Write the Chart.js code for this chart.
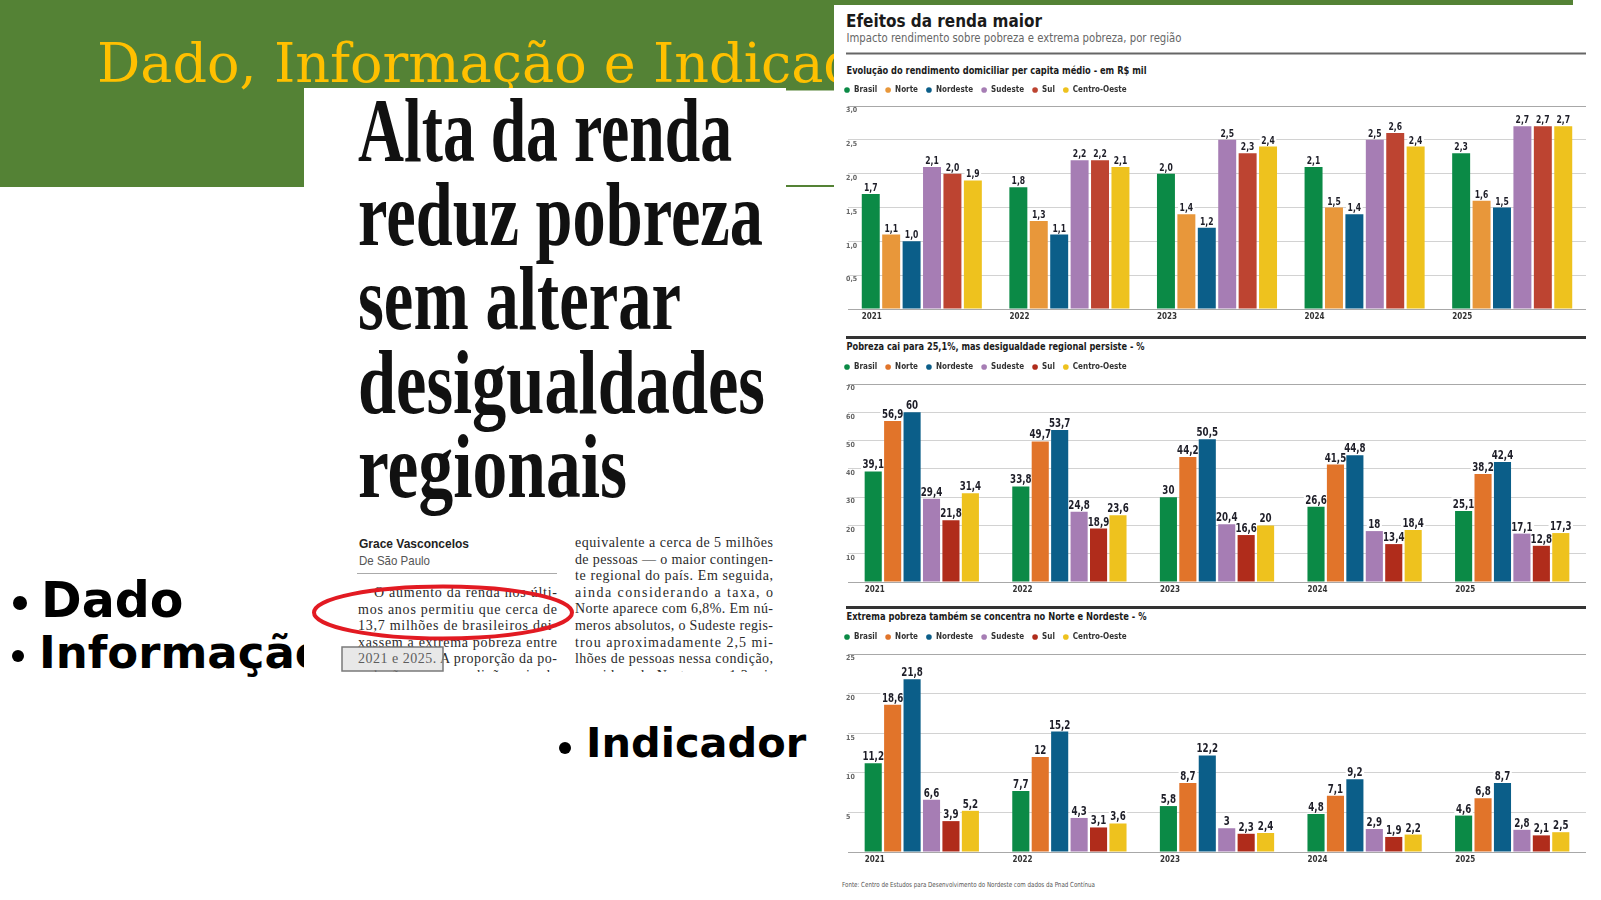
<!DOCTYPE html>
<html lang="pt-BR">
<head>
<meta charset="utf-8">
<title>Dado, Informação e Indicador</title>
<script src="https://cdn.jsdelivr.net/npm/chart.js@4.4.1/dist/chart.umd.min.js"></script>
<style>
  html, body { margin: 0; padding: 0; background: #fff; }
  #slide { position: relative; width: 1601px; height: 900px; overflow: hidden; }
  #bg { position: absolute; left: 0; top: 0; }
  .chartbox { position: absolute; left: 834px; width: 752px; }
</style>
</head>
<body>
<div id="slide">
<svg id="bg" width="1601" height="900" xmlns="http://www.w3.org/2000/svg">
  <defs>
    <clipPath id="np"><rect x="304" y="88" width="482" height="584"/></clipPath>
  </defs>
  <rect x="0" y="0" width="1601" height="900" fill="#fff"/>
  <rect x="0" y="0" width="1573" height="187" fill="#548235"/>
  <text x="97" y="82" font-family="DejaVu Serif" font-size="54" fill="#ffc000">Dado, Informação e Indicador</text>

  <circle cx="20" cy="603" r="7" fill="#000"/>
  <text x="41" y="617" font-family="DejaVu Sans" font-weight="bold" font-size="49" fill="#000">Dado</text>
  <circle cx="18" cy="656" r="6" fill="#000"/>
  <text x="39" y="668" font-family="DejaVu Sans" font-weight="bold" font-size="45" fill="#000">Informação</text>

  <!-- recorte do jornal -->
  <rect x="304" y="88" width="482" height="584" fill="#fff"/>
  <g clip-path="url(#np)" id="paper"></g>
  <ellipse cx="443" cy="612.5" rx="129" ry="26" fill="none" stroke="#e21a22" stroke-width="4"/>
  <rect x="342" y="647" width="101" height="24" fill="rgba(190,190,190,0.35)" stroke="#7a7a7a" stroke-width="1.5"/>
  <rect x="786" y="90.5" width="48" height="94.5" fill="#fff"/>

  <!-- painel dos graficos -->
  <rect x="834" y="5" width="752" height="895" fill="#fff"/>
  <text x="846" y="27.3" font-family="DejaVu Sans" font-weight="bold" font-size="18" fill="#1a1a1a" textLength="196" lengthAdjust="spacingAndGlyphs">Efeitos da renda maior</text>
  <text x="846.5" y="42" font-family="DejaVu Sans" font-size="12.5" fill="#666" textLength="335" lengthAdjust="spacingAndGlyphs">Impacto rendimento sobre pobreza e extrema pobreza, por região</text>
  <line x1="846" y1="53.5" x2="1586" y2="53.5" stroke="#666" stroke-width="2"/>
  <text x="846.5" y="74" font-family="DejaVu Sans" font-weight="bold" font-size="10" fill="#1a1a1a" textLength="300" lengthAdjust="spacingAndGlyphs">Evolução do rendimento domiciliar per capita médio - em R$ mil</text>
  <line x1="846" y1="337.5" x2="1586" y2="337.5" stroke="#333" stroke-width="3"/>
  <text x="846.5" y="350" font-family="DejaVu Sans" font-weight="bold" font-size="10" fill="#1a1a1a" textLength="298" lengthAdjust="spacingAndGlyphs">Pobreza cai para 25,1%, mas desigualdade regional persiste - %</text>
  <line x1="846" y1="607.5" x2="1586" y2="607.5" stroke="#333" stroke-width="3"/>
  <text x="846.5" y="620" font-family="DejaVu Sans" font-weight="bold" font-size="10" fill="#1a1a1a" textLength="300" lengthAdjust="spacingAndGlyphs">Extrema pobreza também se concentra no Norte e Nordeste - %</text>
  <text x="842" y="887" font-family="DejaVu Sans" font-size="7" fill="#555" textLength="253" lengthAdjust="spacingAndGlyphs">Fonte: Centro de Estudos para Desenvolvimento do Nordeste com dados da Pnad Contínua</text>

  <circle cx="565" cy="748" r="6" fill="#000"/>
  <text x="586" y="757" font-family="DejaVu Sans" font-weight="bold" font-size="41.5" fill="#000">Indicador</text>
</svg>
<div class="chartbox" style="top:78px;height:245px"><canvas id="chartRenda"></canvas></div>
<div class="chartbox" style="top:355px;height:241px"><canvas id="chartPobreza"></canvas></div>
<div class="chartbox" style="top:625px;height:241px"><canvas id="chartExtrema"></canvas></div>
</div>

<script>
const years = ['2021', '2022', '2023', '2024', '2025'];
const regions = ['Brasil', 'Norte', 'Nordeste', 'Sudeste', 'Sul', 'Centro-Oeste'];

// rendimento domiciliar per capita medio (R$ mil), uma linha por regiao
const rendaValues = [
  [1.7, 1.8, 2.0, 2.1, 2.3],
  [1.1, 1.3, 1.4, 1.5, 1.6],
  [1.0, 1.1, 1.2, 1.4, 1.5],
  [2.1, 2.2, 2.5, 2.5, 2.7],
  [2.0, 2.2, 2.3, 2.6, 2.7],
  [1.9, 2.1, 2.4, 2.4, 2.7]
];

// pobreza - %
const pobrezaValues = [
  [39.1, 33.8, 30, 26.6, 25.1],
  [56.9, 49.7, 44.2, 41.5, 38.2],
  [60, 53.7, 50.5, 44.8, 42.4],
  [29.4, 24.8, 20.4, 18, 17.1],
  [21.8, 18.9, 16.6, 13.4, 12.8],
  [31.4, 23.6, 20, 18.4, 17.3]
];

// extrema pobreza - %
const extremaValues = [
  [11.2, 7.7, 5.8, 4.8, 4.6],
  [18.6, 12, 8.7, 7.1, 6.8],
  [21.8, 15.2, 12.2, 9.2, 8.7],
  [6.6, 4.3, 3, 2.9, 2.8],
  [3.9, 3.1, 2.3, 1.9, 2.1],
  [5.2, 3.6, 2.4, 2.2, 2.5]
];

const rendaAxis = [3, 0.5];    // max, passo
const pobrezaAxis = [70, 10];
const extremaAxis = [25, 5];

const coloursRenda = ['#0b8a46', '#e8973a', '#0b5e89', '#a67db4', '#bd4431', '#eec21e'];
const coloursPobreza = ['#0b8a46', '#e1742a', '#0b5e89', '#a67db4', '#b02c1b', '#eec21e'];

// texto do recorte de jornal
const headline = ['Alta da renda', 'reduz pobreza', 'sem alterar', 'desigualdades', 'regionais'];
const headlineWidths = [374, 405, 323, 407, 269];
const leftCol = ['O aumento da renda nos últi-', 'mos anos permitiu que cerca de', '13,7 milhões de brasileiros dei-',
  'xassem a extrema pobreza entre', '2021 e 2025. A proporção da po-', 'pulação nessa condição caiu de'];
const rightCol = ['equivalente a cerca de 5 milhões', 'de pessoas — o maior contingen-', 'te regional do país. Em seguida,',
  'ainda considerando a taxa, o', 'Norte aparece com 6,8%. Em nú-', 'meros absolutos, o Sudeste regis-',
  'trou aproximadamente 2,5 mi-', 'lhões de pessoas nessa condição,', 'seguido pelo Norte, com 1,3 mi-'];

const SVGNS = 'http://www.w3.org/2000/svg';
const paper = document.getElementById('paper');
function svgText(str, attrs) {
  const t = document.createElementNS(SVGNS, 'text');
  for (const k in attrs) t.setAttribute(k, attrs[k]);
  t.textContent = str;
  paper.appendChild(t);
}
headline.forEach((line, i) => {
  svgText(line, { x: 358, y: 161 + i * 84, 'font-family': 'Liberation Serif', 'font-weight': 'bold',
    'font-size': 90, fill: '#111', textLength: headlineWidths[i], lengthAdjust: 'spacingAndGlyphs' });
});
svgText('Grace Vasconcelos', { x: 359, y: 548, 'font-family': 'Liberation Sans', 'font-weight': 'bold',
  'font-size': 13, fill: '#222', textLength: 110, lengthAdjust: 'spacingAndGlyphs' });
svgText('De São Paulo', { x: 359, y: 565, 'font-family': 'Liberation Sans', 'font-size': 13, fill: '#555',
  textLength: 71, lengthAdjust: 'spacingAndGlyphs' });
const rule = document.createElementNS(SVGNS, 'line');
rule.setAttribute('x1', 357); rule.setAttribute('x2', 557); rule.setAttribute('y1', 573.5); rule.setAttribute('y2', 573.5);
rule.setAttribute('stroke', '#aaa'); rule.setAttribute('stroke-width', 1);
paper.appendChild(rule);
leftCol.forEach((line, i) => {
  const indent = i === 0 ? 16 : 0;
  svgText(line, { x: 358 + indent, y: 597 + i * 16.6, 'font-family': 'Liberation Serif', 'font-size': 14,
    fill: '#2a2a2a', textLength: 199 - indent, lengthAdjust: 'spacing' });
});
rightCol.forEach((line, i) => {
  svgText(line, { x: 575, y: 547 + i * 16.6, 'font-family': 'Liberation Serif', 'font-size': 14,
    fill: '#2a2a2a', textLength: 198, lengthAdjust: 'spacing' });
});

// fonte estreita, se houver
function fontExists(name) {
  const c = document.createElement('canvas').getContext('2d');
  const s = 'abcdefghijklmnopqrstuvwxyz0123456789';
  c.font = '40px monospace';
  const w0 = c.measureText(s).width;
  c.font = '40px "' + name + '", monospace';
  return c.measureText(s).width !== w0;
}
const narrow = ['Liberation Sans Narrow', 'DejaVu Sans Condensed', 'Roboto Condensed'].find(fontExists);
const F = narrow ? "'" + narrow + "', 'Liberation Sans', sans-serif" : "'Liberation Sans', sans-serif";
Chart.defaults.font.family = F;

const probe = document.createElement('canvas').getContext('2d');
probe.font = 'bold 12.5px ' + F;
const labelScale = Math.min(1, 21.5 / probe.measureText('56,9').width);

function fmt(v, decimals) {
  return (decimals != null ? v.toFixed(decimals) : String(v)).replace('.', ',');
}

function legendHeight(h) {
  return {
    id: 'legendHeight',
    beforeInit(chart) {
      const fit = chart.legend.fit;
      chart.legend.fit = function () { fit.call(this); this.height = h; };
    }
  };
}

function labelBox(chart, opts, cb) {
  const ctx = chart.ctx;
  ctx.font = 'bold ' + opts.size + 'px ' + F;
  chart.data.datasets.forEach((ds, i) => {
    chart.getDatasetMeta(i).data.forEach((bar, j) => {
      const txt = fmt(ds.data[j], opts.decimals);
      const w = ctx.measureText(txt).width * labelScale;
      cb(ctx, txt, bar, w);
    });
  });
}

const valueLabels = {
  id: 'valueLabels',
  beforeDatasetsDraw(chart, args, opts) {
    const ctx = chart.ctx;
    ctx.save();
    labelBox(chart, opts, (c, txt, bar, w) => {
      c.fillStyle = '#fff';
      c.fillRect(bar.x - w / 2 - 1.5, bar.y - 3 - opts.size * 0.85, w + 3, opts.size * 0.95);
    });
    ctx.restore();
  },
  afterDatasetsDraw(chart, args, opts) {
    const ctx = chart.ctx;
    ctx.save();
    ctx.textAlign = 'center';
    ctx.textBaseline = 'alphabetic';
    labelBox(chart, opts, (c, txt, bar) => {
      c.fillStyle = '#1e1e28';
      c.save();
      c.translate(bar.x, bar.y - 3);
      c.scale(labelScale, 1);
      c.fillText(txt, 0, 0);
      c.restore();
    });
    ctx.restore();
  }
};

function makeChart(id, values, colours, axis, o) {
  const max = axis[0], step = axis[1];
  return new Chart(document.getElementById(id), {
    type: 'bar',
    data: {
      labels: years,
      datasets: regions.map((r, i) => ({
        label: r,
        data: values[i],
        backgroundColor: colours[i],
        borderWidth: 0,
        categoryPercentage: o.catPct,
        barPercentage: 0.88
      }))
    },
    options: {
      responsive: true,
      maintainAspectRatio: false,
      animation: false,
      layout: { padding: { left: 2, right: 0, top: 0, bottom: 0 } },
      plugins: {
        legend: {
          position: 'top',
          align: 'start',
          labels: {
            usePointStyle: true, pointStyle: 'circle', boxWidth: 6, boxHeight: 4, padding: 8,
            color: '#333', font: { size: 8, weight: 'bold' }
          }
        },
        tooltip: { enabled: false },
        valueLabels: { size: o.labelSize, decimals: o.decimals }
      },
      scales: {
        x: {
          grid: { display: false, drawTicks: false },
          border: { display: false },
          ticks: {
            align: 'start', labelOffset: o.xOffset, padding: 3, maxRotation: 0, autoSkip: false,
            color: '#333', font: { size: 8, weight: 'bold' }
          },
          afterFit: s => { s.height = 14; }
        },
        y: {
          min: 0, max: max,
          border: { display: false },
          grid: {
            drawTicks: false, lineWidth: 1,
            color: c => (c.tick.value === max || c.tick.value === 0) ? '#a8a8a8' : '#d2d2d2'
          },
          ticks: {
            stepSize: step, mirror: true, padding: -2, labelOffset: 4.5,
            color: '#666', font: { size: 7, weight: 'bold' },
            callback: v => v === 0 ? '' : fmt(v, o.tickDecimals)
          },
          afterFit: s => { s.width = 12; }
        }
      }
    },
    plugins: [legendHeight(o.legendH), valueLabels]
  });
}

makeChart('chartRenda', rendaValues, coloursRenda, rendaAxis,
  { catPct: 0.83, xOffset: -60, labelSize: 11, decimals: 1, tickDecimals: 1, legendH: 28 });
makeChart('chartPobreza', pobrezaValues, coloursPobreza, pobrezaAxis,
  { catPct: 0.79, xOffset: -57, labelSize: 12.5, decimals: null, tickDecimals: null, legendH: 29 });
makeChart('chartExtrema', extremaValues, coloursPobreza, extremaAxis,
  { catPct: 0.79, xOffset: -57, labelSize: 12.5, decimals: null, tickDecimals: null, legendH: 29 });
</script>
</body>
</html>
